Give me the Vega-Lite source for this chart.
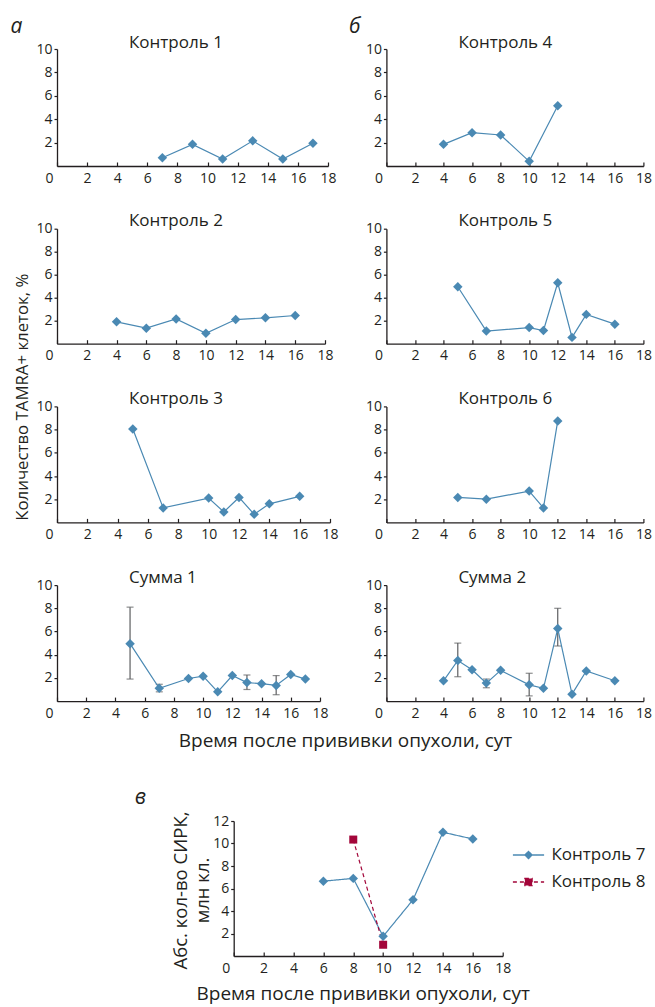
{
  "$schema": "https://vega.github.io/schema/vega-lite/v6.json",
  "padding": {"left": 10, "top": 15, "right": 0, "bottom": 6},
  "background": "white",
  "config": {
    "view": {"stroke": null},
    "font": "Open Sans",
    "axis": {"domainColor": "#231f20", "domainWidth": 1.3, "tickColor": "#231f20", "tickWidth": 1.2, "labelColor": "#231f20", "labelFont": "Open Sans", "labelFontSize": 14, "grid": false, "titleColor": "#231f20", "titleFont": "Open Sans", "titleFontWeight": "normal", "titleFontSize": 19},
    "axisX": {"tickSize": -4, "labelPadding": 9},
    "axisY": {"tickSize": 3, "labelPadding": 2},
    "title": {"font": "Open Sans", "fontSize": 17, "fontWeight": "normal", "color": "#231f20", "anchor": "start", "frame": "group", "dx": 72, "baseline": "alphabetic", "offset": -8.5}
  },
  "datasets": {
    "pct": [
      {"panel": "Контроль 1", "x": 7, "y": 0.7},
      {"panel": "Контроль 1", "x": 9, "y": 1.85},
      {"panel": "Контроль 1", "x": 11, "y": 0.6},
      {"panel": "Контроль 1", "x": 13, "y": 2.15},
      {"panel": "Контроль 1", "x": 15, "y": 0.6},
      {"panel": "Контроль 1", "x": 17, "y": 1.95},
      {"panel": "Контроль 2", "x": 4, "y": 1.9},
      {"panel": "Контроль 2", "x": 6, "y": 1.35},
      {"panel": "Контроль 2", "x": 8, "y": 2.15},
      {"panel": "Контроль 2", "x": 10, "y": 0.9},
      {"panel": "Контроль 2", "x": 12, "y": 2.1},
      {"panel": "Контроль 2", "x": 14, "y": 2.25},
      {"panel": "Контроль 2", "x": 16, "y": 2.45},
      {"panel": "Контроль 3", "x": 5, "y": 8.05},
      {"panel": "Контроль 3", "x": 7, "y": 1.25},
      {"panel": "Контроль 3", "x": 10, "y": 2.1},
      {"panel": "Контроль 3", "x": 11, "y": 0.9},
      {"panel": "Контроль 3", "x": 12, "y": 2.15},
      {"panel": "Контроль 3", "x": 13, "y": 0.7},
      {"panel": "Контроль 3", "x": 14, "y": 1.6},
      {"panel": "Контроль 3", "x": 16, "y": 2.25},
      {"panel": "Сумма 1", "x": 5, "y": 4.95, "lo": 1.9, "hi": 8.1},
      {"panel": "Сумма 1", "x": 7, "y": 1.1, "lo": 0.8, "hi": 1.45},
      {"panel": "Сумма 1", "x": 9, "y": 1.95},
      {"panel": "Сумма 1", "x": 10, "y": 2.15},
      {"panel": "Сумма 1", "x": 11, "y": 0.8},
      {"panel": "Сумма 1", "x": 12, "y": 2.2},
      {"panel": "Сумма 1", "x": 13, "y": 1.6, "lo": 1.0, "hi": 2.25},
      {"panel": "Сумма 1", "x": 14, "y": 1.5},
      {"panel": "Сумма 1", "x": 15, "y": 1.35, "lo": 0.55, "hi": 2.2},
      {"panel": "Сумма 1", "x": 16, "y": 2.3},
      {"panel": "Сумма 1", "x": 17, "y": 1.9},
      {"panel": "Контроль 4", "x": 4, "y": 1.85},
      {"panel": "Контроль 4", "x": 6, "y": 2.85},
      {"panel": "Контроль 4", "x": 8, "y": 2.65},
      {"panel": "Контроль 4", "x": 10, "y": 0.4},
      {"panel": "Контроль 4", "x": 12, "y": 5.15},
      {"panel": "Контроль 5", "x": 5, "y": 4.95},
      {"panel": "Контроль 5", "x": 7, "y": 1.1},
      {"panel": "Контроль 5", "x": 10, "y": 1.4},
      {"panel": "Контроль 5", "x": 11, "y": 1.15},
      {"panel": "Контроль 5", "x": 12, "y": 5.3},
      {"panel": "Контроль 5", "x": 13, "y": 0.55},
      {"panel": "Контроль 5", "x": 14, "y": 2.55},
      {"panel": "Контроль 5", "x": 16, "y": 1.7},
      {"panel": "Контроль 6", "x": 5, "y": 2.15},
      {"panel": "Контроль 6", "x": 7, "y": 2.0},
      {"panel": "Контроль 6", "x": 10, "y": 2.7},
      {"panel": "Контроль 6", "x": 11, "y": 1.25},
      {"panel": "Контроль 6", "x": 12, "y": 8.75},
      {"panel": "Сумма 2", "x": 4, "y": 1.75},
      {"panel": "Сумма 2", "x": 5, "y": 3.5, "lo": 2.1, "hi": 5.0},
      {"panel": "Сумма 2", "x": 6, "y": 2.7},
      {"panel": "Сумма 2", "x": 7, "y": 1.55, "lo": 1.15, "hi": 1.9},
      {"panel": "Сумма 2", "x": 8, "y": 2.65},
      {"panel": "Сумма 2", "x": 10, "y": 1.4, "lo": 0.45, "hi": 2.4},
      {"panel": "Сумма 2", "x": 11, "y": 1.1},
      {"panel": "Сумма 2", "x": 12, "y": 6.25, "lo": 4.75, "hi": 8.0},
      {"panel": "Сумма 2", "x": 13, "y": 0.6},
      {"panel": "Сумма 2", "x": 14, "y": 2.6},
      {"panel": "Сумма 2", "x": 16, "y": 1.75}
    ],
    "abs": [
      {"series": "Контроль 7", "x": 6, "y": 6.65},
      {"series": "Контроль 7", "x": 8, "y": 6.9},
      {"series": "Контроль 7", "x": 10, "y": 1.75},
      {"series": "Контроль 7", "x": 12, "y": 5.0},
      {"series": "Контроль 7", "x": 14, "y": 11.0},
      {"series": "Контроль 7", "x": 16, "y": 10.4},
      {"series": "Контроль 8", "x": 8, "y": 10.35},
      {"series": "Контроль 8", "x": 10, "y": 1.0}
    ]
  },
  "vconcat": [
    {
      "columns": 2,
      "bounds": "flush",
      "spacing": {"row": 62.7, "column": 56.4},
      "concat": [
        {
          "width": 271, "height": 117,
          "title": {"text": "Контроль 1", "offset": -37},
          "data": {"name": "pct"},
          "transform": [{"filter": "datum.panel === 'Контроль 1'"}],
          "encoding": {
            "x": {"field": "x", "type": "quantitative", "scale": {"domain": [0, 18], "nice": false}, "axis": {"values": [0,2,4,6,8,10,12,14,16,18], "title": null, "labelFlush": false, "labelAlign": {"condition": {"test": "datum.value === 0", "value": "right"}, "value": "center"}, "labelOffset": {"condition": {"test": "datum.value === 0", "value": -4}, "value": 0}}},
            "y": {"field": "y", "type": "quantitative", "scale": {"domain": [0, 10], "nice": false}, "axis": {"values": [2,4,6,8,10], "title": "а", "titleAngle": 0, "titleX": -47, "titleY": -17, "titleAlign": "left", "titleBaseline": "alphabetic", "titleFontStyle": "italic", "titleFontSize": 21}}
          },
          "layer": [
            {"mark": {"type": "line", "color": "#4a89b3", "strokeWidth": 1.2}},
            {"mark": {"type": "point", "shape": "diamond", "filled": true, "size": 90, "color": "#4a89b3", "opacity": 1}}
          ]
        },
        {
          "width": 257, "height": 117,
          "title": {"text": "Контроль 4", "offset": -37},
          "data": {"name": "pct"},
          "transform": [{"filter": "datum.panel === 'Контроль 4'"}],
          "encoding": {
            "x": {"field": "x", "type": "quantitative", "scale": {"domain": [0, 18], "nice": false}, "axis": {"values": [0,2,4,6,8,10,12,14,16,18], "title": null, "labelFlush": false, "labelAlign": {"condition": {"test": "datum.value === 0", "value": "right"}, "value": "center"}, "labelOffset": {"condition": {"test": "datum.value === 0", "value": -4}, "value": 0}}},
            "y": {"field": "y", "type": "quantitative", "scale": {"domain": [0, 10], "nice": false}, "axis": {"values": [2,4,6,8,10], "title": "б", "titleAngle": 0, "titleX": -38, "titleY": -17, "titleAlign": "left", "titleBaseline": "alphabetic", "titleFontStyle": "italic", "titleFontSize": 21}}
          },
          "layer": [
            {"mark": {"type": "line", "color": "#4a89b3", "strokeWidth": 1.2}},
            {"mark": {"type": "point", "shape": "diamond", "filled": true, "size": 90, "color": "#4a89b3", "opacity": 1}}
          ]
        },
        {
          "width": 268, "height": 115,
          "title": {"text": "Контроль 2"},
          "data": {"name": "pct"},
          "transform": [{"filter": "datum.panel === 'Контроль 2'"}],
          "encoding": {
            "x": {"field": "x", "type": "quantitative", "scale": {"domain": [0, 18], "nice": false}, "axis": {"values": [0,2,4,6,8,10,12,14,16,18], "title": null, "labelFlush": false, "labelAlign": {"condition": {"test": "datum.value === 0", "value": "right"}, "value": "center"}, "labelOffset": {"condition": {"test": "datum.value === 0", "value": -4}, "value": 0}}},
            "y": {"field": "y", "type": "quantitative", "scale": {"domain": [0, 10], "nice": false}, "axis": {"values": [2,4,6,8,10], "title": "Количество TAMRA+ клеток, %", "titleFontSize": 16.8, "titleAngle": -90, "titleX": -30, "titleY": 168, "titleAlign": "center", "titleBaseline": "alphabetic"}}
          },
          "layer": [
            {"mark": {"type": "line", "color": "#4a89b3", "strokeWidth": 1.2}},
            {"mark": {"type": "point", "shape": "diamond", "filled": true, "size": 90, "color": "#4a89b3", "opacity": 1}}
          ]
        },
        {
          "width": 257, "height": 115,
          "title": {"text": "Контроль 5"},
          "data": {"name": "pct"},
          "transform": [{"filter": "datum.panel === 'Контроль 5'"}],
          "encoding": {
            "x": {"field": "x", "type": "quantitative", "scale": {"domain": [0, 18], "nice": false}, "axis": {"values": [0,2,4,6,8,10,12,14,16,18], "title": null, "labelFlush": false, "labelAlign": {"condition": {"test": "datum.value === 0", "value": "right"}, "value": "center"}, "labelOffset": {"condition": {"test": "datum.value === 0", "value": -4}, "value": 0}}},
            "y": {"field": "y", "type": "quantitative", "scale": {"domain": [0, 10], "nice": false}, "axis": {"values": [2,4,6,8,10], "title": null}}
          },
          "layer": [
            {"mark": {"type": "line", "color": "#4a89b3", "strokeWidth": 1.2}},
            {"mark": {"type": "point", "shape": "diamond", "filled": true, "size": 90, "color": "#4a89b3", "opacity": 1}}
          ]
        },
        {
          "width": 273, "height": 116,
          "title": {"text": "Контроль 3"},
          "data": {"name": "pct"},
          "transform": [{"filter": "datum.panel === 'Контроль 3'"}],
          "encoding": {
            "x": {"field": "x", "type": "quantitative", "scale": {"domain": [0, 18], "nice": false}, "axis": {"values": [0,2,4,6,8,10,12,14,16,18], "title": null, "labelFlush": false, "labelAlign": {"condition": {"test": "datum.value === 0", "value": "right"}, "value": "center"}, "labelOffset": {"condition": {"test": "datum.value === 0", "value": -4}, "value": 0}}},
            "y": {"field": "y", "type": "quantitative", "scale": {"domain": [0, 10], "nice": false}, "axis": {"values": [2,4,6,8,10], "title": null}}
          },
          "layer": [
            {"mark": {"type": "line", "color": "#4a89b3", "strokeWidth": 1.2}},
            {"mark": {"type": "point", "shape": "diamond", "filled": true, "size": 90, "color": "#4a89b3", "opacity": 1}}
          ]
        },
        {
          "width": 257, "height": 116,
          "title": {"text": "Контроль 6"},
          "data": {"name": "pct"},
          "transform": [{"filter": "datum.panel === 'Контроль 6'"}],
          "encoding": {
            "x": {"field": "x", "type": "quantitative", "scale": {"domain": [0, 18], "nice": false}, "axis": {"values": [0,2,4,6,8,10,12,14,16,18], "title": null, "labelFlush": false, "labelAlign": {"condition": {"test": "datum.value === 0", "value": "right"}, "value": "center"}, "labelOffset": {"condition": {"test": "datum.value === 0", "value": -4}, "value": 0}}},
            "y": {"field": "y", "type": "quantitative", "scale": {"domain": [0, 10], "nice": false}, "axis": {"values": [2,4,6,8,10], "title": null}}
          },
          "layer": [
            {"mark": {"type": "line", "color": "#4a89b3", "strokeWidth": 1.2}},
            {"mark": {"type": "point", "shape": "diamond", "filled": true, "size": 90, "color": "#4a89b3", "opacity": 1}}
          ]
        },
        {
          "width": 263, "height": 116,
          "title": {"text": "Сумма 1"},
          "data": {"name": "pct"},
          "transform": [{"filter": "datum.panel === 'Сумма 1'"}],
          "encoding": {
            "x": {"field": "x", "type": "quantitative", "scale": {"domain": [0, 18], "nice": false}, "axis": {"values": [0,2,4,6,8,10,12,14,16,18], "title": "Время после прививки опухоли, сут", "titleX": 288, "titleY": 45, "titleAlign": "center", "titleBaseline": "alphabetic", "labelFlush": false, "labelAlign": {"condition": {"test": "datum.value === 0", "value": "right"}, "value": "center"}, "labelOffset": {"condition": {"test": "datum.value === 0", "value": -4}, "value": 0}}},
            "y": {"field": "y", "type": "quantitative", "scale": {"domain": [0, 10], "nice": false}, "axis": {"values": [2,4,6,8,10], "title": null}}
          },
          "layer": [
            {
              "transform": [{"filter": "isValid(datum.lo)"}],
              "mark": {"type": "errorbar", "ticks": {"size": 7}, "color": "#5d5e60", "thickness": 1.2},
              "encoding": {
                "y": {"field": "lo", "type": "quantitative", "scale": {"domain": [0, 10], "nice": false}, "axis": {"values": [2,4,6,8,10], "title": null}},
                "y2": {"field": "hi"}
              }
            },
            {"mark": {"type": "line", "color": "#4a89b3", "strokeWidth": 1.2}},
            {"mark": {"type": "point", "shape": "diamond", "filled": true, "size": 90, "color": "#4a89b3", "opacity": 1}}
          ]
        },
        {
          "width": 257, "height": 116,
          "title": {"text": "Сумма 2"},
          "data": {"name": "pct"},
          "transform": [{"filter": "datum.panel === 'Сумма 2'"}],
          "encoding": {
            "x": {"field": "x", "type": "quantitative", "scale": {"domain": [0, 18], "nice": false}, "axis": {"values": [0,2,4,6,8,10,12,14,16,18], "title": null, "labelFlush": false, "labelAlign": {"condition": {"test": "datum.value === 0", "value": "right"}, "value": "center"}, "labelOffset": {"condition": {"test": "datum.value === 0", "value": -4}, "value": 0}}},
            "y": {"field": "y", "type": "quantitative", "scale": {"domain": [0, 10], "nice": false}, "axis": {"values": [2,4,6,8,10], "title": null}}
          },
          "layer": [
            {
              "transform": [{"filter": "isValid(datum.lo)"}],
              "mark": {"type": "errorbar", "ticks": {"size": 7}, "color": "#5d5e60", "thickness": 1.2},
              "encoding": {
                "y": {"field": "lo", "type": "quantitative", "scale": {"domain": [0, 10], "nice": false}, "axis": {"values": [2,4,6,8,10], "title": null}},
                "y2": {"field": "hi"}
              }
            },
            {"mark": {"type": "line", "color": "#4a89b3", "strokeWidth": 1.2}},
            {"mark": {"type": "point", "shape": "diamond", "filled": true, "size": 90, "color": "#4a89b3", "opacity": 1}}
          ]
        }
      ]
    },
    {
      "spacing": 17.7,
      "hconcat": [
        {
          "width": 60, "height": 10,
          "data": {"values": [{"s": 1}]},
          "mark": {"type": "rect", "opacity": 0},
          "encoding": {}
        },
        {
          "width": 269, "height": 135,
          "title": {"text": "в", "fontStyle": "italic", "fontSize": 21, "dx": -99, "offset": 3},
          "data": {"name": "abs"},
          "encoding": {
            "x": {"field": "x", "type": "quantitative", "scale": {"domain": [0, 18], "nice": false}, "axis": {"values": [0,2,4,6,8,10,12,14,16,18], "title": "Время после прививки опухоли, сут", "titleX": 129, "titleY": 43, "titleAlign": "center", "titleBaseline": "alphabetic", "labelFlush": false, "labelAlign": {"condition": {"test": "datum.value === 0", "value": "right"}, "value": "center"}, "labelOffset": {"condition": {"test": "datum.value === 0", "value": -4}, "value": 0}}},
            "y": {"field": "y", "type": "quantitative", "scale": {"domain": [0, 12], "nice": false}, "axis": {"values": [2,4,6,8,10,12], "title": ["Абс. кол-во СИРК,", "млн кл."], "titleFontSize": 18.5, "titleAngle": -90, "titleX": -47, "titleY": 69, "titleAlign": "center", "titleBaseline": "alphabetic", "titleLineHeight": 22}},
            "color": {
              "field": "series", "type": "nominal",
              "scale": {"domain": ["Контроль 7", "Контроль 8"], "range": ["#4a89b3", "#a3063a"]},
              "legend": {
                "title": null, "orient": "none", "legendX": 462.5, "legendY": 797,
                "symbolType": "M-1.95,0H1.95M0,-0.45L0.45,0L0,0.45L-0.45,0Z", "symbolSize": 256,
                "labelFontSize": 17, "labelColor": "#231f20", "labelFont": "Open Sans", "labelOffset": 14, "rowPadding": 10, "symbolStrokeWidth": 1.3,
                "encode": {
                  "symbols": {
                    "update": {
                      "shape": {"signal": "datum.value === 'Контроль 7' ? 'M-1.95,0H1.95M0,-0.45L0.45,0L0,0.45L-0.45,0Z' : 'M-1.95,0H1.95M-0.45,-0.45H0.45V0.45H-0.45Z'"},
                      "strokeDash": {"signal": "datum.value === 'Контроль 8' ? [3.5, 2.5] : [1, 0]"},
                      "fill": {"signal": "datum.value === 'Контроль 7' ? '#4a89b3' : '#a3063a'"},
                      "stroke": {"signal": "datum.value === 'Контроль 7' ? '#4a89b3' : '#a3063a'"},
                      "opacity": {"value": 1},
                      "fillOpacity": {"value": 1},
                      "strokeOpacity": {"value": 1}
                    }
                  }
                }
              }
            }
          },
          "layer": [
            {
              "mark": {"type": "line", "strokeWidth": 1.2},
              "encoding": {
                "strokeDash": {"field": "series", "type": "nominal", "scale": {"domain": ["Контроль 7", "Контроль 8"], "range": [[1, 0], [4, 3]]}, "legend": null}
              }
            },
            {
              "transform": [{"filter": "datum.series === 'Контроль 7'"}],
              "mark": {"type": "point", "shape": "diamond", "filled": true, "size": 90, "opacity": 1}
            },
            {
              "transform": [{"filter": "datum.series === 'Контроль 8'"}],
              "mark": {"type": "point", "shape": "square", "filled": true, "size": 64, "opacity": 1}
            }
          ]
        }
      ]
    }
  ],
  "spacing": 36
}
